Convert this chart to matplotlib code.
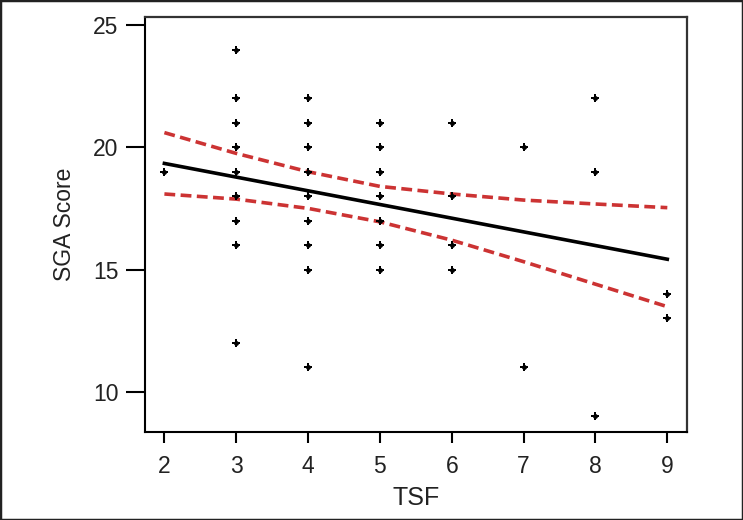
import matplotlib
matplotlib.use("Agg")
import matplotlib.pyplot as plt
from matplotlib.patches import Rectangle

plt.rcParams['font.family'] = ['Liberation Sans', 'DejaVu Sans']

# Scatter data (TSF vs SGA Score)
tsf = [2,
       3, 3, 3, 3, 3, 3, 3, 3, 3,
       4, 4, 4, 4, 4, 4, 4, 4, 4,
       5, 5, 5, 5, 5, 5, 5,
       6, 6, 6, 6,
       7, 7,
       8, 8, 8,
       9, 9]
sga = [19,
       24, 22, 21, 20, 19, 18, 17, 16, 12,
       22, 21, 20, 19, 18, 17, 16, 15, 11,
       21, 20, 19, 18, 17, 16, 15,
       21, 18, 16, 15,
       20, 11,
       22, 19, 9,
       14, 13]

# Fitted line and confidence band
fit_x = [2, 9]
fit_y = [19.34, 15.42]
band_x = [2, 3, 4, 5, 6, 7, 8, 9]
upper = [20.6, 19.75, 19.0, 18.4, 18.09, 17.84, 17.68, 17.53]
lower = [18.09, 17.88, 17.5, 16.95, 16.2, 15.32, 14.4, 13.48]

fig = plt.figure(figsize=(7.43, 5.2), dpi=100)
ax = fig.add_axes([145/743, 1 - 432.3/520, (686.7 - 145)/743, (432.3 - 17)/520])

red = '#cc3333'
ax.plot(band_x, upper, color=red, lw=2.6, dashes=(3.0, 1.5))
ax.plot(band_x, lower, color=red, lw=2.6, dashes=(3.0, 1.5))
ax.plot(fit_x, fit_y, color='black', lw=2.6)
# small plus-shaped dots with a round core
ax.plot(tsf, sga, 'P', color='black', ms=6, mew=0)
ax.plot(tsf, sga, 'o', color='black', ms=3.5, mew=0)

ax.set_xlim(1.73, 9.27)
ax.set_ylim(8.34, 25.33)
ax.set_xticks(range(2, 10))
ax.set_yticks([10, 15, 20, 25])

for side in ['left', 'bottom']:
    ax.spines[side].set_linewidth(1.5)
    ax.spines[side].set_color('black')
for side in ['top', 'right']:
    ax.spines[side].set_linewidth(1.6)
    ax.spines[side].set_color('#333333')

ax.tick_params(axis='y', length=13.5, width=1.5, pad=5.5, labelsize=16.5, color='black', labelcolor='#222222')
ax.tick_params(axis='x', length=8, width=1.5, pad=8, labelsize=16.5, color='black', labelcolor='#222222')

ax.set_xlabel('TSF', fontsize=18, labelpad=6, color='#222222')
ax.set_ylabel('SGA Score', fontsize=16.5, labelpad=12, color='#222222')

fig.patches.append(Rectangle((0, 0), 1, 1, transform=fig.transFigure,
                             fill=False, lw=2.5, ec='#222222'))

fig.savefig('out.png', dpi=100)
